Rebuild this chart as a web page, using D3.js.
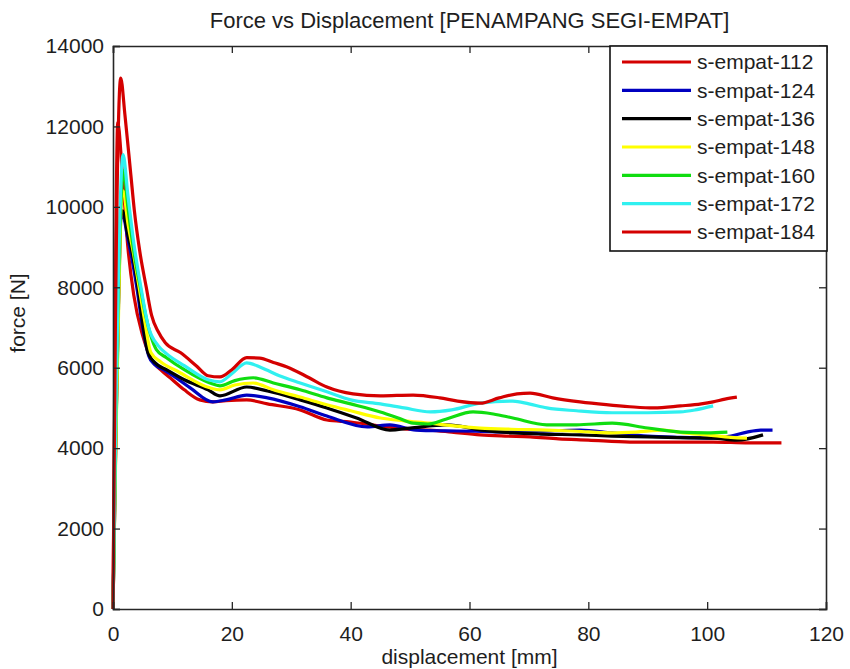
<!DOCTYPE html>
<html>
<head>
<meta charset="utf-8">
<script src="https://cdn.jsdelivr.net/npm/d3@7"></script>
<style>
  html, body { margin: 0; padding: 0; background: #fff; }
  svg { display: block; font-family: "Liberation Sans", Arial, Helvetica, sans-serif; }
</style>
</head>
<body>
<svg id="chart" width="850" height="669"></svg>
<script>
// Force [N] against displacement [mm] for rectangular cross-section specimens
const seriesNames = ["s-empat-112", "s-empat-124", "s-empat-136", "s-empat-148", "s-empat-160", "s-empat-172", "s-empat-184"];
const seriesColors = ["#d40000", "#0000c0", "#000000", "#ffff00", "#10dd10", "#30f0f0", "#d40000"];

const disp112 = [0, 0.3, 0.8, 1.5, 2.5, 3.5, 5, 6.5, 8, 10, 12, 14.6, 16.8, 19, 22.5, 26, 31.5, 36, 40, 45, 49, 53.4, 57, 61.8, 66, 70.2, 75, 80, 87, 94, 101, 107, 112.5];
const force112 = [0, 6000, 12100, 11000, 9000, 7800, 6800, 6200, 5950, 5700, 5450, 5200, 5150, 5180, 5200, 5100, 4950, 4700, 4650, 4550, 4480, 4450, 4400, 4330, 4300, 4280, 4230, 4200, 4150, 4150, 4150, 4130, 4130];

const disp124 = [0, 0.5, 1.6, 2.5, 3.2, 4.0, 5.0, 6.0, 7.0, 8.5, 10.4, 13, 16.8, 19, 22.5, 26, 31.5, 36, 42.8, 46.6, 51, 56.2, 61, 67, 72, 78.6, 84, 90, 95, 101, 104, 106.7, 109, 111];
const force124 = [0, 4400, 9800, 9200, 8700, 8000, 7000, 6300, 6080, 5950, 5770, 5500, 5150, 5200, 5320, 5250, 5030, 4800, 4530, 4580, 4450, 4430, 4420, 4400, 4420, 4450, 4380, 4300, 4270, 4250, 4300, 4400, 4450, 4450];

const disp136 = [0, 0.5, 1.6, 2.5, 3.3, 4.2, 5.0, 5.9, 7.1, 9, 12, 16, 18, 22.5, 26, 31.5, 36, 41, 46.6, 50, 56.2, 62, 67.3, 72, 78.6, 84, 90, 95, 101, 105, 109.4];
const force136 = [0, 4500, 9900, 9300, 8800, 8010, 7100, 6370, 6120, 5950, 5700, 5450, 5300, 5520, 5420, 5200, 5000, 4750, 4450, 4500, 4580, 4450, 4380, 4350, 4330, 4300, 4280, 4260, 4250, 4200, 4330];

const disp148 = [0, 0.6, 1.7, 2.5, 3.5, 4.4, 5.3, 6.4, 8, 11, 16.3, 18, 20.5, 23.6, 27, 31.5, 36, 40, 45, 49, 53.4, 57, 61.8, 67, 73, 78, 84, 88, 92.6, 96, 100, 104, 106.7];
const force148 = [0, 5000, 10400, 9600, 8800, 8000, 7200, 6370, 6150, 5900, 5500, 5450, 5570, 5620, 5450, 5270, 5080, 4930, 4750, 4680, 4620, 4560, 4500, 4470, 4450, 4420, 4380, 4400, 4450, 4380, 4330, 4270, 4250];

const disp160 = [0, 0.5, 1.8, 2.5, 3.5, 4.6, 5.5, 7.3, 9, 12, 16.3, 18, 20.5, 23.6, 27, 31.5, 36, 40, 45, 48, 50.5, 53, 56, 60.6, 64, 67.3, 73, 78, 84, 90, 95.5, 100, 103.4];
const force160 = [0, 5000, 10900, 10000, 8900, 8000, 7300, 6450, 6250, 5950, 5620, 5550, 5680, 5750, 5620, 5450, 5250, 5100, 4900, 4750, 4620, 4600, 4720, 4900, 4850, 4750, 4580, 4580, 4620, 4500, 4400, 4380, 4400];

const disp172 = [0, 0.5, 1.7, 2.5, 3.5, 4.7, 6, 7.6, 9, 12, 16, 18, 20, 22.5, 25, 28, 31.5, 36, 40, 45, 49, 53.4, 57, 61.8, 67.3, 70, 73, 78, 84, 90, 95.5, 98, 101];
const force172 = [0, 5000, 11300, 10300, 9100, 8000, 7000, 6550, 6350, 6050, 5700, 5650, 5850, 6120, 6000, 5800, 5620, 5400, 5200, 5100, 5000, 4900, 4950, 5120, 5170, 5100, 5000, 4930, 4880, 4880, 4900, 4950, 5050];

const disp184 = [0, 0.4, 1.3, 2, 3, 3.6, 4.5, 5.6, 6.5, 7.6, 8.8, 11.4, 14, 16, 18, 20, 22.5, 24.7, 27, 29.3, 33, 36, 40.4, 45, 50.5, 55, 58, 61.8, 65, 68, 70.2, 74, 78.6, 83, 87, 91, 95.5, 99, 101, 103, 105];
const force184 = [0, 7000, 13200, 12300, 10800, 9900, 8900, 8000, 7300, 6900, 6620, 6370, 6050, 5800, 5770, 5950, 6250, 6240, 6130, 6020, 5750, 5520, 5350, 5300, 5320, 5250, 5170, 5120, 5250, 5350, 5370, 5250, 5150, 5080, 5030, 5000, 5050, 5100, 5150, 5220, 5270];

const dispSeries = [disp112, disp124, disp136, disp148, disp160, disp172, disp184];
const forceSeries = [force112, force124, force136, force148, force160, force172, force184];

const xTicks = [0, 20, 40, 60, 80, 100, 120];
const yTicks = [0, 2000, 4000, 6000, 8000, 10000, 12000, 14000];

const titleText = "Force vs Displacement [PENAMPANG SEGI-EMPAT]";
const xLabelText = "displacement [mm]";
const yLabelText = "force [N]";

const series = seriesNames.map((name, i) => ({
  name,
  color: seriesColors[i],
  points: dispSeries[i].map((d, j) => ({ x: d, y: forceSeries[i][j] }))
}));

const margin = { left: 113, top: 46, right: 24, bottom: 60 };
const W = 850, H = 669;
const innerW = W - margin.left - margin.right;
const innerH = H - margin.top - margin.bottom;

const svg = d3.select("#chart");
const g = svg.append("g").attr("transform", `translate(${margin.left},${margin.top})`);

const x = d3.scaleLinear().domain([0, 120]).range([0, innerW]);
const y = d3.scaleLinear().domain([0, 14000]).range([innerH, 0]);

const tickLen = 7;
const labelFont = 21;
const textColor = "#1e1e1e";

// Plot lines
const line = d3.line().x(d => x(d.x)).y(d => y(d.y)).curve(d3.curveMonotoneX);
g.append("g").attr("class", "lines")
  .selectAll("path").data(series).join("path")
  .attr("fill", "none")
  .attr("stroke", d => d.color)
  .attr("stroke-width", 3.2)
  .attr("stroke-linejoin", "round")
  .attr("d", d => line(d.points));

// Axes: ticks pointing inward on all four sides
const axisColor = "#262626";
const xBottom = d3.axisBottom(x).tickValues(xTicks).tickSize(-tickLen).tickPadding(17).tickFormat(d3.format("d"));
const xTop = d3.axisTop(x).tickValues(xTicks).tickSize(-tickLen).tickFormat("");
const yLeft = d3.axisLeft(y).tickValues(yTicks).tickSize(-tickLen).tickPadding(9).tickFormat(d3.format("d"));
const yRight = d3.axisRight(y).tickValues(yTicks).tickSize(-tickLen).tickFormat("");

function styleAxis(sel) {
  sel.select(".domain").attr("stroke", axisColor).attr("stroke-width", 1.6);
  sel.selectAll(".tick line").attr("stroke", axisColor).attr("stroke-width", 1.3);
  sel.selectAll(".tick text").attr("fill", textColor).style("font-size", labelFont + "px")
    .style("font-family", "'Liberation Sans', Arial, sans-serif");
}

g.append("g").attr("transform", `translate(0,${innerH})`).call(xBottom).call(styleAxis);
g.append("g").call(xTop).call(styleAxis);
g.append("g").call(yLeft).call(styleAxis);
g.append("g").attr("transform", `translate(${innerW},0)`).call(yRight).call(styleAxis);

// Title and axis labels
svg.append("text")
  .attr("x", margin.left + innerW / 2).attr("y", 28)
  .attr("text-anchor", "middle").attr("fill", textColor)
  .style("font-size", "22px")
  .text(titleText);

svg.append("text")
  .attr("x", margin.left + innerW / 2).attr("y", 664)
  .attr("text-anchor", "middle").attr("fill", textColor)
  .style("font-size", labelFont + "px")
  .text(xLabelText);

svg.append("text")
  .attr("transform", `translate(25,${313}) rotate(-90)`)
  .attr("text-anchor", "middle").attr("fill", textColor)
  .style("font-size", labelFont + "px")
  .text(yLabelText);

// Legend in the upper-right corner of the axes
const legend = svg.append("g").attr("transform", "translate(610,46)");
legend.append("rect")
  .attr("width", 217).attr("height", 205)
  .attr("fill", "#fff").attr("stroke", "#111").attr("stroke-width", 1.6);

const rowY = d3.scalePoint().domain(seriesNames).range([16, 186]);
const rows = legend.selectAll("g.row").data(series).join("g")
  .attr("class", "row")
  .attr("transform", d => `translate(0,${rowY(d.name)})`);
rows.append("line")
  .attr("x1", 12).attr("x2", 81)
  .attr("stroke", d => d.color).attr("stroke-width", 3.2);
rows.append("text")
  .attr("x", 87).attr("dy", "0.35em")
  .attr("fill", textColor)
  .style("font-size", labelFont + "px")
  .text(d => d.name);
</script>
</body>
</html>
